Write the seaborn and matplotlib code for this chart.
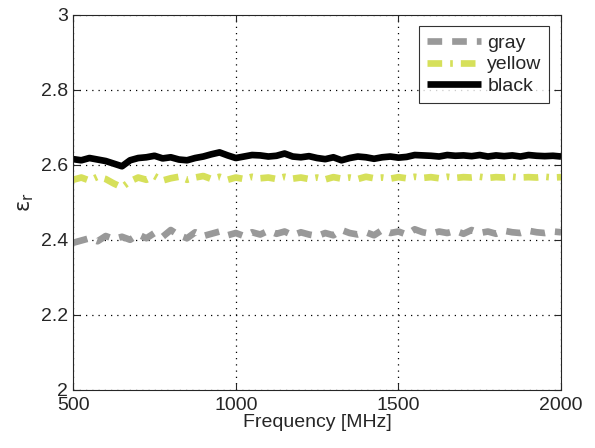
import numpy as np
import pandas as pd
import matplotlib
matplotlib.use('Agg')
import matplotlib.pyplot as plt
import seaborn as sns

freq = np.arange(500, 2001, 25)

black = [2.615, 2.612, 2.618, 2.614, 2.610, 2.603, 2.596, 2.612, 2.618, 2.620,
         2.624, 2.617, 2.620, 2.614, 2.612, 2.618, 2.622, 2.628, 2.633, 2.625,
         2.618, 2.622, 2.626, 2.625, 2.622, 2.624, 2.630, 2.622, 2.620, 2.623,
         2.618, 2.615, 2.620, 2.612, 2.618, 2.622, 2.620, 2.616, 2.620, 2.622,
         2.619, 2.621, 2.626, 2.625, 2.624, 2.622, 2.626, 2.624, 2.625, 2.623,
         2.626, 2.622, 2.625, 2.623, 2.625, 2.622, 2.626, 2.624, 2.623, 2.624,
         2.622]
yellow = [2.560, 2.566, 2.558, 2.568, 2.562, 2.550, 2.540, 2.556, 2.566, 2.560,
          2.570, 2.558, 2.564, 2.568, 2.560, 2.566, 2.570, 2.562, 2.568, 2.560,
          2.566, 2.562, 2.568, 2.564, 2.566, 2.562, 2.568, 2.563, 2.566, 2.562,
          2.566, 2.561, 2.567, 2.563, 2.566, 2.562, 2.568, 2.564, 2.566, 2.563,
          2.567, 2.564, 2.568, 2.565, 2.567, 2.564, 2.568, 2.565, 2.567, 2.566,
          2.568, 2.565, 2.567, 2.566, 2.568, 2.566, 2.567, 2.566, 2.568, 2.566,
          2.567]
gray = [2.392, 2.398, 2.404, 2.396, 2.410, 2.402, 2.408, 2.400, 2.414, 2.404,
        2.418, 2.408, 2.426, 2.412, 2.404, 2.420, 2.410, 2.416, 2.422, 2.412,
        2.418, 2.410, 2.420, 2.414, 2.424, 2.416, 2.422, 2.412, 2.420, 2.414,
        2.410, 2.418, 2.412, 2.426, 2.418, 2.414, 2.420, 2.412, 2.426, 2.418,
        2.422, 2.414, 2.428, 2.420, 2.416, 2.422, 2.418, 2.424, 2.416, 2.426,
        2.418, 2.422, 2.416, 2.424, 2.420, 2.418, 2.424, 2.420, 2.418, 2.422,
        2.420]

sns.set_style('ticks')
plt.rcParams['font.family'] = ['Liberation Sans', 'DejaVu Sans']
plt.rcParams['mathtext.fontset'] = 'dejavusans'

fig, ax = plt.subplots(figsize=(5.95, 4.48), dpi=100)
fig.subplots_adjust(left=0.123, right=0.943, top=0.967, bottom=0.13)

sns.lineplot(x=freq, y=gray, ax=ax, color='#999999', lw=4.8, label='gray')
sns.lineplot(x=freq, y=yellow, ax=ax, color='#d6e05a', lw=4.8, label='yellow')
sns.lineplot(x=freq, y=black, ax=ax, color='black', lw=4.8, label='black')
ax.lines[0].set_dashes([2.2, 1.5])
ax.lines[1].set_dashes([2.2, 1.2, 0.4, 1.2])
for ln in ax.lines:
    ln.set_solid_capstyle('butt')
    ln.set_dash_capstyle('butt')

ax.set_xlim(500, 2000)
ax.set_ylim(2, 3)
ax.set_xticks([500, 1000, 1500, 2000])
ax.set_yticks([2, 2.2, 2.4, 2.6, 2.8, 3])
ax.set_yticklabels(['2', '2.2', '2.4', '2.6', '2.8', '3'])
ax.grid(True, color='black', linestyle=(0, (1, 4)), linewidth=0.9)
ax.tick_params(direction='in', labelsize=14, length=5, width=0.8, top=True, right=True)
ax.tick_params(axis='x', pad=5)
for s in ax.spines.values():
    s.set_linewidth(0.8)
ax.set_xlabel('Frequency [MHz]', fontsize=14, labelpad=0)
ax.set_ylabel(r'$\mathrm{\varepsilon_r}$', fontsize=15, labelpad=4)

leg = ax.legend(loc='upper right', fontsize=14, frameon=True, fancybox=False,
                edgecolor='black', handlelength=2.8, borderpad=0.4,
                labelspacing=0.2, handletextpad=0.3, borderaxespad=0.6)
leg.get_frame().set_linewidth(0.8)
for h in leg.get_lines():
    h.set_solid_capstyle('butt')
    h.set_dash_capstyle('butt')

fig.savefig('out.png', dpi=100)
